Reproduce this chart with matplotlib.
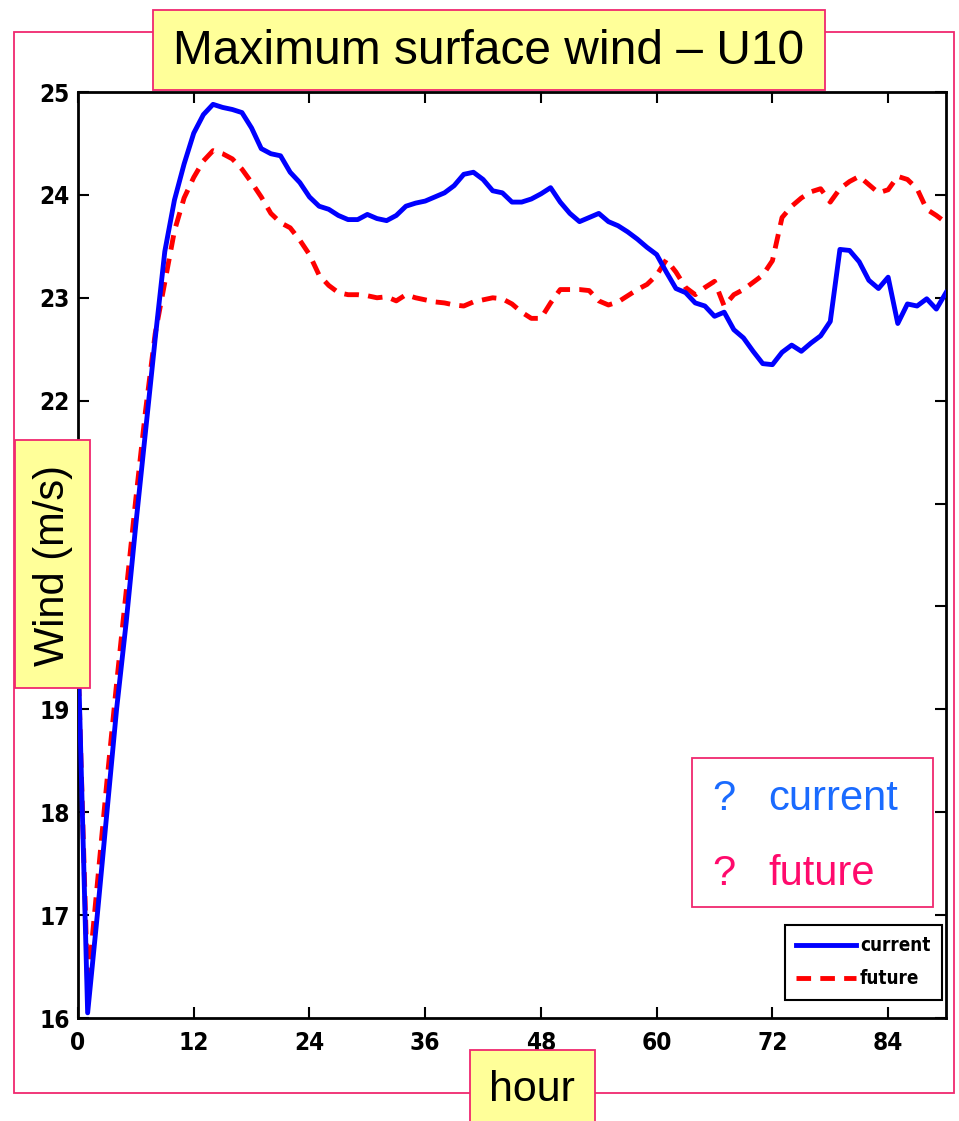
import matplotlib
matplotlib.use("Agg")
import matplotlib.pyplot as plt
from matplotlib import font_manager
from matplotlib.font_manager import FontProperties
from matplotlib.patches import Rectangle

# ---------------- data ----------------
hours = list(range(0, 91))
current = [19.6, 16.05, 17.0, 18.0, 19.0, 19.85, 20.8, 21.7, 22.6, 23.45,
           23.95, 24.3, 24.6, 24.78, 24.88, 24.85, 24.83, 24.8, 24.65, 24.45,
           24.4, 24.38, 24.22, 24.12, 23.98, 23.89, 23.86, 23.8, 23.76, 23.76,
           23.81, 23.77, 23.75, 23.8, 23.89, 23.92, 23.94, 23.98, 24.02, 24.09,
           24.2, 24.22, 24.15, 24.04, 24.02, 23.93, 23.93, 23.96, 24.01, 24.07,
           23.93, 23.82, 23.74, 23.78, 23.82, 23.74, 23.7, 23.64, 23.57, 23.49,
           23.42, 23.25, 23.09, 23.05, 22.95, 22.92, 22.82, 22.86, 22.69, 22.61,
           22.48, 22.36, 22.35, 22.47, 22.54, 22.48, 22.56, 22.63, 22.77, 23.47,
           23.46, 23.35, 23.17, 23.09, 23.2, 22.75, 22.94, 22.92, 22.99, 22.89,
           23.05]
future = [19.5, 16.3, 17.3, 18.3, 19.25, 20.15, 21.05, 21.9, 22.65, 23.15,
          23.65, 23.97, 24.17, 24.33, 24.43, 24.4, 24.35, 24.25, 24.12, 23.98,
          23.82, 23.73, 23.68, 23.56, 23.42, 23.22, 23.12, 23.05, 23.03, 23.03,
          23.02, 23.0, 23.01, 22.97, 23.03, 23.0, 22.98, 22.96, 22.95, 22.93,
          22.92, 22.96, 22.98, 23.0, 22.99, 22.94, 22.86, 22.8, 22.8, 22.95,
          23.08, 23.08, 23.08, 23.07, 22.97, 22.93, 22.96, 23.02, 23.08, 23.13,
          23.22, 23.37, 23.25, 23.1, 23.03, 23.1, 23.16, 22.92, 23.03, 23.08,
          23.15, 23.22, 23.36, 23.78, 23.89, 23.97, 24.03, 24.06, 23.93, 24.06,
          24.13, 24.18, 24.1, 24.02, 24.05, 24.18, 24.15, 24.06, 23.86, 23.8,
          23.73]
xticks = [0, 12, 24, 36, 48, 60, 72, 84]
yticks = [16, 17, 18, 19, 20, 21, 22, 23, 24, 25]
# tick labels 20 and 21 are covered by the y-label box in the original
ytick_labels = ["16", "17", "18", "19", "", "", "22", "23", "24", "25"]
series_names = ["current", "future"]
title = "Maximum surface wind \u2013 U10"
ylabel = "Wind (m/s)"
xlabel = "hour"

# ---------------- fonts ----------------
ttf = font_manager.fontManager.ttflist
avail = {f.name for f in ttf}
sans = "Liberation Sans" if "Liberation Sans" in avail else "DejaVu Sans"
plt.rcParams["font.family"] = [sans, "DejaVu Sans"]


def find_narrow_bold():
    prefs = []
    for f in ttf:
        fn = f.fname.lower()
        bold = (f.weight in ("bold", 700) or "bold" in fn)
        if not bold or "oblique" in fn or "italic" in fn:
            continue
        if f.name == "Liberation Sans Narrow":
            prefs.append((0, f.fname))
        elif "condensed" in fn and "dejavusans" in fn.replace(" ", ""):
            prefs.append((1, f.fname))
        elif "narrow" in fn or "condensed" in fn:
            prefs.append((2, f.fname))
    prefs.sort()
    return prefs[0][1] if prefs else None


nb = find_narrow_bold()


def narrow_prop(size):
    if nb:
        return FontProperties(fname=nb, size=size)
    return FontProperties(family="DejaVu Sans", weight="bold", stretch="condensed",
                          size=size * 0.85)


W, H = 959, 1121
fig = plt.figure(figsize=(W / 100, H / 100), dpi=100)
fig.patch.set_facecolor("white")


def fx(px):
    return px / W


def fy(py):
    return 1 - py / H


pink = "#F0286E"
yellow = "#FFFF99"

# outer frame
fig.add_artist(Rectangle((fx(14), fy(1093)), fx(954) - fx(14), fy(32) - fy(1093),
                         transform=fig.transFigure, fill=False, edgecolor=pink,
                         linewidth=1.3, zorder=0.5))

ax = fig.add_axes([fx(78), fy(1018), fx(946) - fx(78), fy(92) - fy(1018)])
ax.plot(hours, current, color="#0000FF", linewidth=3.5, label=series_names[0],
        solid_joinstyle="round", zorder=3)
lf, = ax.plot(hours, future, color="#FF0000", linewidth=3.5, label=series_names[1],
              linestyle="--", zorder=2)
lf.set_dashes([3, 1.9])

ax.set_xlim(0, 90)
ax.set_ylim(16, 25)
ax.set_xticks(xticks)
ax.set_yticks(yticks)
ax.set_yticklabels(ytick_labels)
ax.tick_params(direction="in", length=8, width=1.5, top=True, right=True, pad=6)
ax.tick_params(axis="x", pad=9)
tp = narrow_prop(17.5)
for lab in ax.get_xticklabels() + ax.get_yticklabels():
    lab.set_fontproperties(tp)
for sp in ax.spines.values():
    sp.set_linewidth(2)

leg = ax.legend(loc="upper left", bbox_to_anchor=(fx(785), fy(925)),
                bbox_transform=fig.transFigure, frameon=True, fancybox=False,
                edgecolor="black", framealpha=1, handlelength=3.2,
                handletextpad=0.2, borderpad=0.6, labelspacing=0.75,
                borderaxespad=0, prop=narrow_prop(13.5))
leg.get_frame().set_linewidth(1.5)

# title box
fig.add_artist(Rectangle((fx(153), fy(90)), fx(825) - fx(153), fy(10) - fy(90),
                         transform=fig.transFigure, facecolor=yellow, edgecolor=pink,
                         linewidth=1.3, zorder=5))
fig.text(fx(489), fy(52), title, ha="center", va="center", fontsize=34.5,
         color="black", zorder=6)

# y label box
fig.add_artist(Rectangle((fx(15), fy(688)), fx(90) - fx(15), fy(440) - fy(688),
                         transform=fig.transFigure, facecolor=yellow, edgecolor=pink,
                         linewidth=1.3, zorder=5))
fig.text(fx(53), fy(566), ylabel, ha="center", va="center", rotation=90,
         fontsize=30, color="black", zorder=6)

# x label box
fig.add_artist(Rectangle((fx(470), fy(1125)), fx(595) - fx(470), fy(1050) - fy(1125),
                         transform=fig.transFigure, facecolor=yellow, edgecolor=pink,
                         linewidth=1.3, zorder=5))
fig.text(fx(532), fy(1090), xlabel, ha="center", va="center", fontsize=31,
         color="black", zorder=6)

# annotation box
fig.add_artist(Rectangle((fx(692), fy(907)), fx(933) - fx(692), fy(758) - fy(907),
                         transform=fig.transFigure, facecolor="white", edgecolor=pink,
                         linewidth=1.3, zorder=5))
fig.text(fx(712), fy(799), "?", ha="left", va="center", fontsize=30,
         color="#1A6BFF", zorder=6)
fig.text(fx(768), fy(799), series_names[0], ha="left", va="center", fontsize=30,
         color="#1A6BFF", zorder=6)
fig.text(fx(712), fy(874), "?", ha="left", va="center", fontsize=30,
         color="#FF0A6C", zorder=6)
fig.text(fx(768), fy(874), series_names[1], ha="left", va="center", fontsize=30,
         color="#FF0A6C", zorder=6)

fig.savefig("out.png", dpi=100)
